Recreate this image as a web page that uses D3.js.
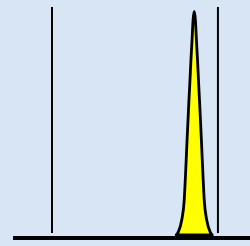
<!DOCTYPE html>
<html>
<head>
<meta charset="utf-8">
<script src="https://cdn.jsdelivr.net/npm/d3@7"></script>
<style>
  body { margin: 0; background: #d7e5f4; }
</style>
</head>
<body>
<div id="chart"></div>
<script>
// marker positions and peak profile (relative intensity, %)
var markers = [20, 90];
var peakX = [72.4, 73.25, 74.73, 75.78, 76.33, 76.96, 77.76, 78.1, 78.6, 79.07, 79.5, 80, 80.5, 80.93, 81.4, 81.9, 82.24, 83.04, 83.67, 84.22, 85.27, 86.75, 87.6];
var peakY = [0, 1.3, 6.7, 15.6, 27, 42, 60, 67, 78, 87, 96, 100, 96, 87, 78, 67, 60, 42, 27, 15.6, 6.7, 1.3, 0];

var width = 250, height = 246;

var svg = d3.select("#chart")
			.append("svg")
			.attr("width", width)
			.attr("height", height);

// background
svg.append("rect")
	.attr("width", width)
	.attr("height", height)
	.style("fill", "#d7e5f4");

var x = d3.scaleLinear().domain([0, 105]).range([4.57, 253.5]);
var y = d3.scaleLinear().domain([0, 100]).range([235, 11.5]);

// marker lines
svg.selectAll("line.marker")
	.data(markers)
	.enter()
	.append("line")
	.attr("class", "marker")
	.attr("x1", function(d) { return x(d); })
	.attr("x2", function(d) { return x(d); })
	.attr("y1", 7)
	.attr("y2", 233)
	.style("stroke", "#000")
	.style("stroke-width", 2);

// peak
var pts = peakX.map(function(d, i) { return [d, peakY[i]]; });
var area = d3.area()
			.x(function(d) { return x(d[0]); })
			.y0(y(0))
			.y1(function(d) { return y(d[1]); })
			.curve(d3.curveMonotoneX);

svg.append("path")
	.datum(pts)
	.attr("d", area)
	.style("fill", "#ffff00")
	.style("stroke", "#000")
	.style("stroke-width", 2.8)
	.style("stroke-linejoin", "round");

// baseline
svg.append("line")
	.attr("x1", 13)
	.attr("x2", 250)
	.attr("y1", 238)
	.attr("y2", 238)
	.style("stroke", "#000")
	.style("stroke-width", 4);
</script>
</body>
</html>
